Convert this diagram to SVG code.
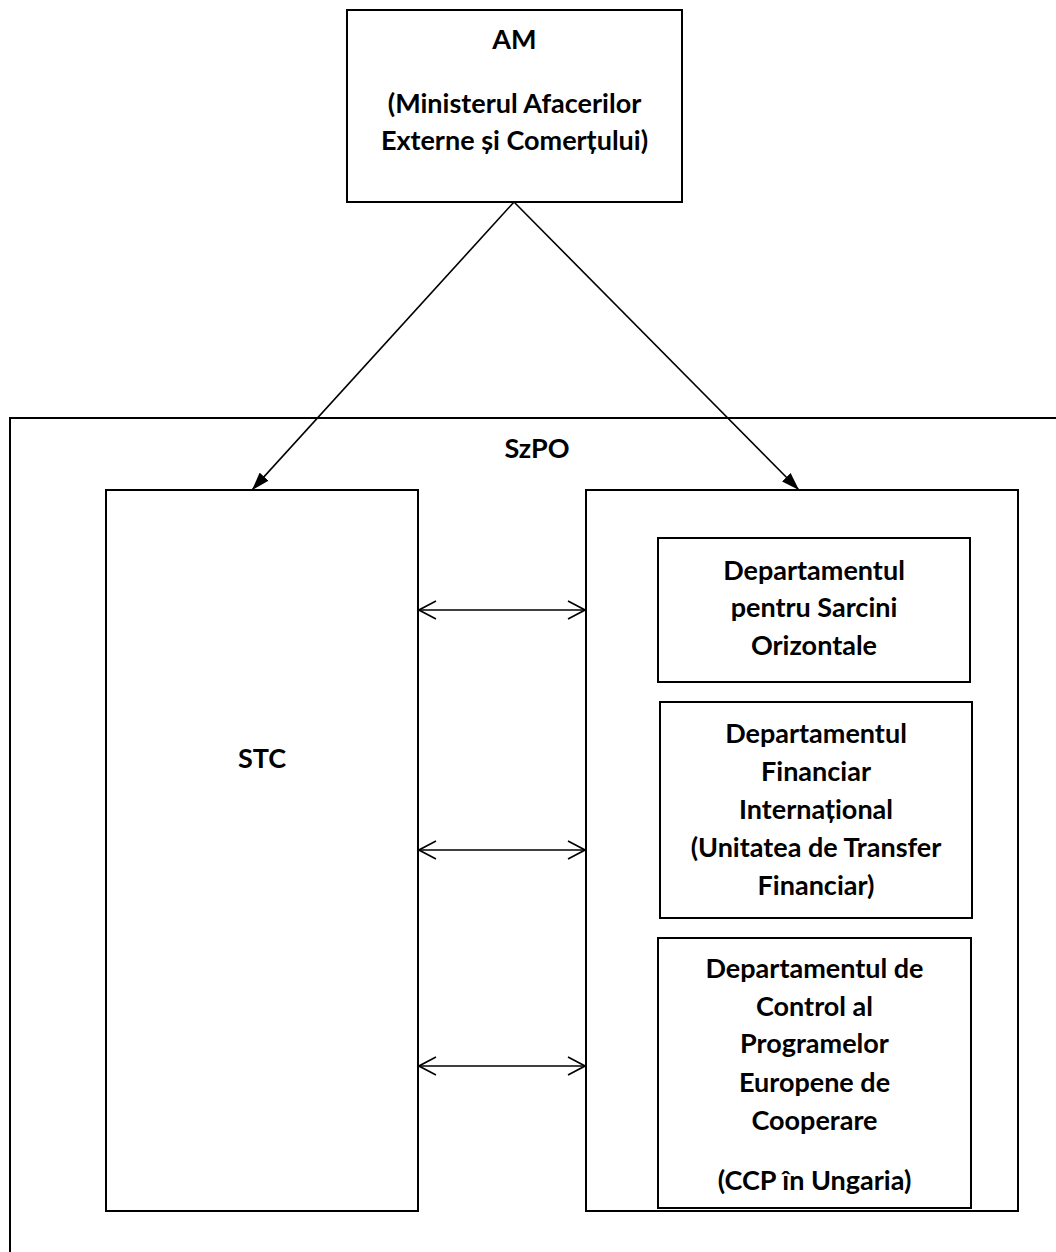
<svg xmlns="http://www.w3.org/2000/svg" width="1056" height="1252" viewBox="0 0 1056 1252">
<style>
  .box { fill: #ffffff; stroke: #000000; stroke-width: 2; }
  .frame { fill: none; stroke: #000000; stroke-width: 2; }
  .lbl { font-family: Lato, "Liberation Sans", sans-serif; font-weight: bold; font-size: 27px; fill: #000000; text-anchor: middle; }
  .edge { fill: none; stroke: #000000; stroke-width: 1.6; }
</style>
<defs>
  <marker id="solid" viewBox="0 0 18 12" refX="18" refY="6" markerWidth="18" markerHeight="12" markerUnits="userSpaceOnUse" orient="auto">
    <path d="M0,0 L18,6 L0,12 z" fill="#000000"/>
  </marker>
  <marker id="open" viewBox="0 0 19 20" refX="18" refY="10" markerWidth="19" markerHeight="20" markerUnits="userSpaceOnUse" orient="auto-start-reverse">
    <path d="M1,1 L18,10 L1,19" fill="none" stroke="#000000" stroke-width="1.6"/>
  </marker>
</defs>
<rect width="1056" height="1252" fill="#ffffff"/>

<g id="szpo">
  <rect class="frame" x="10" y="418" width="1100" height="900"/>
  <text class="lbl" x="537" y="458">SzPO</text>
</g>

<g id="am">
  <rect class="box" x="347" y="10" width="335" height="192"/>
  <text class="lbl" x="514.5" y="49">AM</text>
  <text class="lbl" x="514.5" y="113">(Ministerul Afacerilor</text>
  <text class="lbl" x="514.5" y="150">Externe și Comerțului)</text>
</g>

<g id="stc">
  <rect class="box" x="106" y="490" width="312" height="721"/>
  <text class="lbl" x="262" y="768">STC</text>
</g>

<g id="szpo-units">
  <rect class="box" x="586" y="490" width="432" height="721"/>
</g>

<g id="dept-orizontale">
  <rect class="box" x="658" y="538" width="312" height="144"/>
  <text class="lbl" x="814" y="580">Departamentul</text>
  <text class="lbl" x="814" y="617">pentru Sarcini</text>
  <text class="lbl" x="814" y="655">Orizontale</text>
</g>

<g id="dept-financiar">
  <rect class="box" x="660" y="702" width="312" height="216"/>
  <text class="lbl" x="816" y="743">Departamentul</text>
  <text class="lbl" x="816" y="781">Financiar</text>
  <text class="lbl" x="816" y="819">Internațional</text>
  <text class="lbl" x="816" y="857">(Unitatea de Transfer</text>
  <text class="lbl" x="816" y="895">Financiar)</text>
</g>

<g id="dept-control">
  <rect class="box" x="658" y="938" width="313" height="270"/>
  <text class="lbl" x="814.5" y="978">Departamentul de</text>
  <text class="lbl" x="814.5" y="1016">Control al</text>
  <text class="lbl" x="814.5" y="1053">Programelor</text>
  <text class="lbl" x="814.5" y="1092">Europene de</text>
  <text class="lbl" x="814.5" y="1130">Cooperare</text>
  <text class="lbl" x="814.5" y="1190">(CCP în Ungaria)</text>
</g>

<g id="connectors">
  <line class="edge" x1="514" y1="202" x2="252" y2="490" marker-end="url(#solid)"/>
  <line class="edge" x1="514" y1="202" x2="799" y2="490" marker-end="url(#solid)"/>
  <line class="edge" x1="419" y1="610" x2="585" y2="610" marker-start="url(#open)" marker-end="url(#open)"/>
  <line class="edge" x1="419" y1="850" x2="585" y2="850" marker-start="url(#open)" marker-end="url(#open)"/>
  <line class="edge" x1="419" y1="1066" x2="585" y2="1066" marker-start="url(#open)" marker-end="url(#open)"/>
</g>
</svg>
